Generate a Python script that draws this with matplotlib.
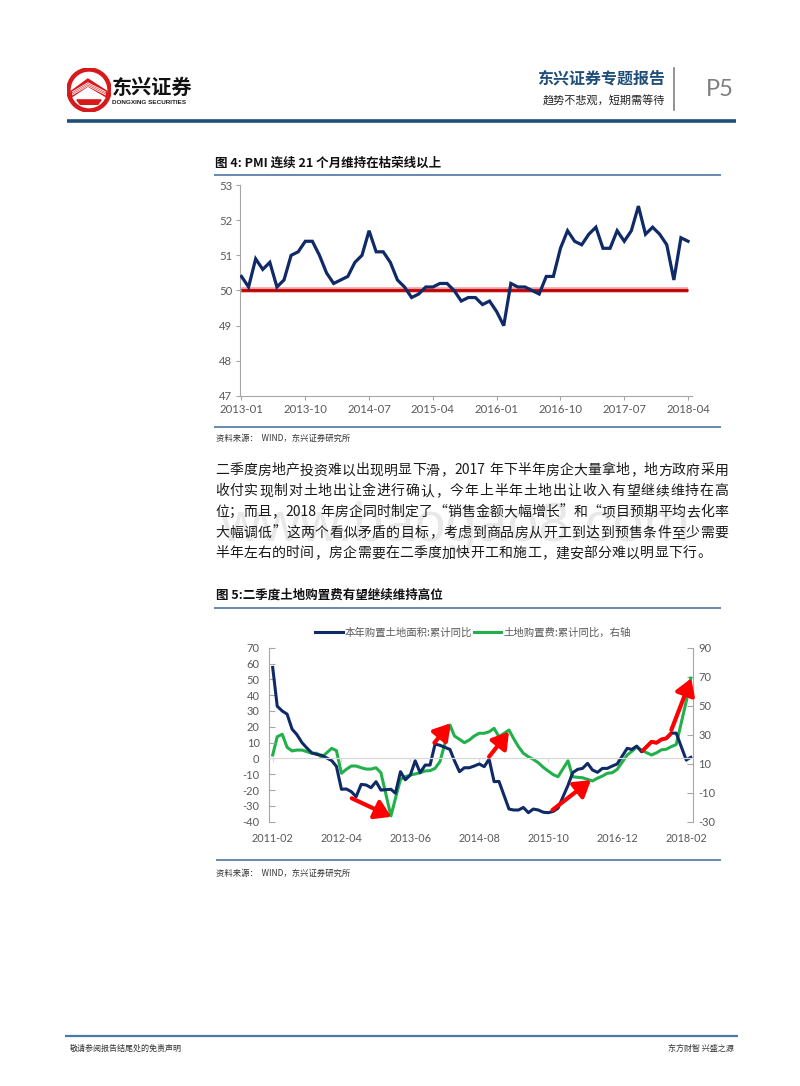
import re
import matplotlib
matplotlib.use('Agg')
import matplotlib.pyplot as plt
import matplotlib.dates as mdates
from matplotlib.lines import Line2D
from matplotlib.patches import Circle, Polygon
import pandas as pd

W, H = 800, 1086
CJK = ['Noto Sans CJK SC', 'DejaVu Sans']
NUM = ['Lato', 'DejaVu Sans']
GRAY_TXT = '#595959'
AXIS_C = '#a6a6a6'
NAVY = '#0f2a66'
GREEN = '#22b04b'
RED = '#ff0000'

# ---------------- Figure 4 data: PMI ----------------
pmi_start = '2013-01'
pmi_values = [50.4, 50.1, 50.9, 50.6, 50.8, 50.1, 50.3, 51.0, 51.1, 51.4, 51.4, 51.0,
              50.5, 50.2, 50.3, 50.4, 50.8, 51.0, 51.7, 51.1, 51.1, 50.8, 50.3, 50.1,
              49.8, 49.9, 50.1, 50.1, 50.2, 50.2, 50.0, 49.7, 49.8, 49.8, 49.6, 49.7,
              49.4, 49.0, 50.2, 50.1, 50.1, 50.0, 49.9, 50.4, 50.4, 51.2, 51.7, 51.4,
              51.3, 51.6, 51.8, 51.2, 51.2, 51.7, 51.4, 51.7, 52.4, 51.6, 51.8, 51.6,
              51.3, 50.3, 51.5, 51.4]
pmi_threshold = 50
pmi_tick_labels = ['2013-01', '2013-10', '2014-07', '2015-04', '2016-01',
                   '2016-10', '2017-07', '2018-04']
pmi_yticks = [47, 48, 49, 50, 51, 52, 53]

# ---------------- Figure 5 data: land purchase ----------------
land_first, land_last = '2011-02', '2018-03'   # January not published
area_yoy = [57.5, 33, 30, 28, 18.5, 15, 10, 6.5, 3.5, 2.5, 2.0,
            -1.4, -5, -19.5, -19.3, -21, -24.2, -16.4, -16.8, -18.5, -14.7, -20,
            -19.5, -22, -8.4, -13.5, -10.5, -1.5, -9, -4.2, -4.2, 9.1, 8.3,
            5.7, -1.5, -8.4, -5.9, -5.9, -4.8, -3.5, -5.2, -0.4, -14.7, -14.5,
            -32, -32.6, -32.6, -31, -34.3, -32, -32.6, -34, -34.3, -33.5, -31.5,
            -17, -9, -6.9, -6.3, -3.1, -7.3, -8.8, -6.3, -6.3, -4.8, -3.5,
            6.4, 5.7, 7.8, 4.2, 7.4, 10.5, 9.9, 12, 12.7, 16, 16,
            -1, 0.7]
fee_yoy = [16, 28.6, 30.3, 21.3, 18.8, 19.4, 19.4, 18.3, 17.2, 17.2, 14.4,
           20.6, 19, 3.4, 6.1, 8.4, 8.4, 7.2, 6.3, 6.3, 7.2, 3.8,
           -26, -13.9, -0.8, 1, 2.2, 2.9, 3.8, 5, 5.2, 6.8, 11.4,
           36.7, 29.1, 26.8, 24.5, 26.3, 29.1, 31, 31, 32, 34.4, 28.6,
           33.2, 27.5, 21.7, 17.2, 14.8, 13, 10.7, 7.5, 5, 2.5, 1,
           12, 1, 0.6, 0.3, -0.8, -1.9, 0, 1.5, 3.4, 3.8, 6.1,
           16, 18.5, 21.5, 19.4, 17.6, 16, 17.5, 19.6, 20, 21.8, 23.2,
           53, 69]
land_tick_labels = ['2011-02', '2012-04', '2013-06', '2014-08', '2015-10',
                    '2016-12', '2018-02']
left_ticks = list(range(-40, 71, 10))
right_ticks = list(range(-30, 91, 20))
highlight_span = ('2017-05', '2017-11')
# annotation arrows: (tail date, tail value, head date, head value) on the left axis
arrows = [('2012-06-04', -25.2, '2013-02-04', -36.9),
          ('2013-10-28', 9.9, '2014-02-04', 22.2),
          ('2014-10-01', 1.1, '2015-02-01', 16.9),
          ('2015-10-28', -32.6, '2016-06-22', -13.7),
          ('2017-11-01', 18.0, '2018-03-04', 50.6)]
legend_labels = ['本年购置土地面积:累计同比', '土地购置费:累计同比，右轴']

para_lines = ['二季度房地产投资难以出现明显下滑，2017 年下半年房企大量拿地，地方政府采用',
              '收付实现制对土地出让金进行确认，今年上半年土地出让收入有望继续维持在高',
              '位；而且，2018 年房企同时制定了“销售金额大幅增长”和“项目预期平均去化率',
              '大幅调低”这两个看似矛盾的目标，考虑到商品房从开工到达到预售条件至少需要',
              '半年左右的时间，房企需要在二季度加快开工和施工，建安部分难以明显下行。']


def fx(x):
    return x / W


def fy(y):
    return 1 - y / H


fig = plt.figure(figsize=(W / 100, H / 100), dpi=100)
fig.patch.set_facecolor('white')


def hline(x0, x1, y, color, lw):
    fig.add_artist(Line2D([fx(x0), fx(x1)], [fy(y), fy(y)], color=color, lw=lw,
                          transform=fig.transFigure, solid_capstyle='butt'))


# ---------------- header ----------------
axl = fig.add_axes([fx(67), fy(112), 44 / W, 44 / H])
axl.set_xlim(-1, 1); axl.set_ylim(-1, 1); axl.axis('off')
axl.add_patch(Circle((0, 0), 1.0, color='#d7191c'))
axl.add_patch(Circle((0, 0), 0.8, color='white'))
axl.add_patch(Polygon([(-0.8, -0.05), (-0.05, 0.5), (0.8, -0.05), (0.8, -0.32),
                       (-0.05, 0.18), (-0.8, -0.32)], closed=True, color='#d7191c'))
for k in range(3):
    off = -0.1 - k * 0.07
    axl.plot([-0.75, -0.05, 0.75], [off + 0.02, 0.48 + off - 0.05, off + 0.02],
             color='white', lw=0.6)
axl.add_patch(Polygon([(-0.55, -0.45), (0.55, -0.45), (0.4, -0.65), (-0.4, -0.65)],
                      closed=True, color='#d7191c'))

fig.text(fx(112), fy(87), '东兴证券', fontsize=14.5, weight='bold', family=CJK,
         va='center', ha='left', color='#111111')
fig.text(fx(112.5), fy(102), 'DONGXING SECURITIES', fontsize=4.6, weight='bold',
         family=['Liberation Sans', 'DejaVu Sans'], va='center', ha='left', color='#222222')

fig.text(fx(665), fy(78), '东兴证券专题报告', fontsize=11.5, weight='bold', family=CJK,
         va='center', ha='right', color='#1f4e79')
fig.text(fx(665), fy(101), '趋势不悲观，短期需等待', fontsize=8, family=CJK,
         va='center', ha='right', color='#222222')
fig.add_artist(Line2D([fx(674), fx(674)], [fy(68), fy(110)], color='#7f7f7f', lw=1.2,
                      transform=fig.transFigure))
fig.text(fx(720), fy(89), 'P5', fontsize=17, family=['Lato', 'DejaVu Sans'],
         va='center', ha='center', color='#7f7f7f')
hline(67, 736, 121, '#1f4e79', 2.6)

# ---------------- Figure 4 ----------------
fig.text(fx(215), fy(163), '图 4: PMI 连续 21 个月维持在枯荣线以上', fontsize=9,
         weight='bold', family=CJK, va='center', ha='left', color='#111111')
hline(214, 721, 175, '#5b80a8', 1.3)

pmi_months = pd.date_range(pmi_start, periods=len(pmi_values), freq='MS').strftime('%Y-%m').tolist()
px = list(range(len(pmi_values)))
ax1 = fig.add_axes([fx(240), fy(396), (692 - 240) / W, (396 - 185) / H])
ax1.plot([px[0], px[-1]], [pmi_threshold, pmi_threshold], color='#e9a0a0', lw=4.0,
         solid_capstyle='butt', zorder=2)
ax1.plot([px[0], px[-1]], [pmi_threshold, pmi_threshold], color='#c00000', lw=2.0,
         solid_capstyle='butt', zorder=3)
ax1.plot(px, pmi_values, color=NAVY, lw=2.3, zorder=4, solid_joinstyle='miter')
ax1.set_xlim(-0.21, 63.56)
ax1.set_ylim(47, 53)
ax1.set_yticks(pmi_yticks)
ax1.set_yticklabels([str(v) for v in pmi_yticks])
ax1.set_xticks([pmi_months.index(l) for l in pmi_tick_labels])
ax1.set_xticklabels(pmi_tick_labels)
for s in ['top', 'right']:
    ax1.spines[s].set_visible(False)
for s in ['left', 'bottom']:
    ax1.spines[s].set_color(AXIS_C)
    ax1.spines[s].set_linewidth(0.8)
ax1.tick_params(axis='both', direction='out', length=3, width=0.8, color=AXIS_C,
                labelcolor=GRAY_TXT, labelsize=8.2)
ax1.tick_params(axis='y', pad=2.5)
ax1.tick_params(axis='x', pad=3)
for lab in ax1.get_xticklabels() + ax1.get_yticklabels():
    lab.set_family(NUM)

hline(214, 721, 427, '#5b80a8', 1.3)
fig.text(fx(216), fy(438), '资料来源：  WIND，东兴证券研究所', fontsize=6, style='italic',
         family=CJK, va='center', ha='left', color='#333333')

# ---------------- paragraph ----------------
fig.text(fx(690), fy(541), 'www.baogao8.com', fontsize=40,
         family=['Liberation Sans', 'DejaVu Sans'], ha='right', va='baseline',
         color='#e8e8e8', zorder=1)

renderer = fig.canvas.get_renderer()
PFS = 10.0


def text_width(s, fs):
    if s == ' ':
        return fs * 100 / 72 * 0.28
    t = fig.text(0, 0, s, fontsize=fs, family=CJK)
    w = t.get_window_extent(renderer).width
    t.remove()
    return w


def draw_para_line(line, y, fs, x0=215, x1=728, justify=True):
    toks = re.findall(r'[0-9A-Za-z]+| |.', line)
    ws = [text_width(t, fs) for t in toks]
    total = sum(ws)
    gap = (x1 - x0 - total) / (len(toks) - 1) if justify else 0.3
    x = x0
    for t, w in zip(toks, ws):
        if t != ' ':
            fig.text(fx(x), fy(y), t, fontsize=fs, family=CJK, va='center', ha='left',
                     color='#1a1a1a', zorder=3)
        x += w + gap


for i, line in enumerate(para_lines):
    draw_para_line(line, 470.5 + 20.7 * i, PFS, justify=(i < len(para_lines) - 1))

# ---------------- Figure 5 ----------------
fig.text(fx(216), fy(595), '图 5:二季度土地购置费有望继续维持高位', fontsize=9,
         weight='bold', family=CJK, va='center', ha='left', color='#111111')
hline(214, 721, 608, '#5b80a8', 1.3)

all_months = pd.date_range(land_first, land_last, freq='MS')
land_dates = all_months[all_months.month != 1]
land_series = pd.DataFrame({'area': area_yoy, 'fee': fee_yoy}, index=land_dates)

ax2 = fig.add_axes([fx(269.3), fy(821.7), (692.7 - 269.3) / W, (821.7 - 647.7) / H])
ax2r = ax2.twinx()
ax2.set_zorder(ax2r.get_zorder() + 1)
ax2.patch.set_visible(False)

lg, = ax2r.plot(land_series.index, land_series['fee'], color=GREEN, lw=2.2)
lb, = ax2.plot(land_series.index, land_series['area'], color=NAVY, lw=2.2)
hl = land_series.loc[highlight_span[0]:highlight_span[1], 'area']
ax2.plot(hl.index, hl.values, color=RED, lw=2.8, solid_capstyle='butt', zorder=5)

for t0, v0, t1, v1 in arrows:
    ax2.annotate('', xy=(mdates.date2num(pd.Timestamp(t1)), v1),
                 xytext=(mdates.date2num(pd.Timestamp(t0)), v0),
                 arrowprops=dict(arrowstyle='-|>,head_length=0.8,head_width=0.5',
                                 color=RED, lw=3.0, shrinkA=0, shrinkB=0,
                                 mutation_scale=12), zorder=6)

ax2.set_xlim(pd.Timestamp('2011-01-11'), pd.Timestamp('2018-03-13'))
ax2.set_ylim(-40, 70)
ax2r.set_ylim(-30, 90)
ax2.set_yticks(left_ticks)
ax2.set_yticklabels([str(v) for v in left_ticks])
ax2r.set_yticks(right_ticks)
ax2r.set_yticklabels([str(v) for v in right_ticks])

tick_dates = [pd.Timestamp(l + '-01') for l in land_tick_labels]
ax2.set_xticks(tick_dates)
ax2.set_xticklabels([''] * len(tick_dates))
ax2.spines['bottom'].set_position(('data', 0))
ax2.spines['bottom'].set_color('#d9d9d9')
ax2.spines['bottom'].set_linewidth(0.9)
ax2.tick_params(axis='x', direction='out', length=3, width=0.8, color='#d9d9d9')
for d, l in zip(tick_dates, land_tick_labels):
    ax2.text(d, -0.095, l, transform=ax2.get_xaxis_transform(), ha='center', va='center',
             fontsize=7.8, color=GRAY_TXT, family=NUM)
ax2.spines['top'].set_visible(False)
ax2.spines['right'].set_visible(False)
ax2.spines['left'].set_color(AXIS_C)
ax2.spines['left'].set_linewidth(0.8)
for s in ['top', 'bottom', 'left']:
    ax2r.spines[s].set_visible(False)
ax2r.spines['right'].set_color(AXIS_C)
ax2r.spines['right'].set_linewidth(0.8)
ax2.tick_params(axis='y', direction='in', length=4, width=0.8, color=AXIS_C,
                labelcolor=GRAY_TXT, labelsize=8, pad=7)
ax2r.tick_params(axis='y', direction='in', length=4, width=0.8, color=AXIS_C,
                 labelcolor=GRAY_TXT, labelsize=8, pad=4)
for lab in ax2.get_yticklabels() + ax2r.get_yticklabels():
    lab.set_family(NUM)

leg = fig.legend([lb, lg], legend_labels, loc='center', ncol=2,
                 bbox_to_anchor=(fx(473), fy(633)), bbox_transform=fig.transFigure,
                 frameon=False, handlelength=2.6, handletextpad=0.2, columnspacing=0.2,
                 prop={'family': CJK, 'size': 7.5})
for t in leg.get_texts():
    t.set_color(GRAY_TXT)

hline(216, 721, 860, '#5b80a8', 1.3)
fig.text(fx(216), fy(873), '资料来源：  WIND，东兴证券研究所', fontsize=6, style='italic',
         family=CJK, va='center', ha='left', color='#333333')

# ---------------- footer ----------------
hline(65, 738, 1035.5, '#4a78a8', 1.6)
fig.text(fx(70), fy(1048.5), '敬请参阅报告结尾处的免责声明', fontsize=5.8, family=CJK,
         va='center', ha='left', color='#333333')
fig.text(fx(734), fy(1048.5), '东方财智 兴盛之源', fontsize=5.8, family=CJK,
         va='center', ha='right', color='#333333')

fig.savefig('out.png', dpi=100, facecolor='white')
